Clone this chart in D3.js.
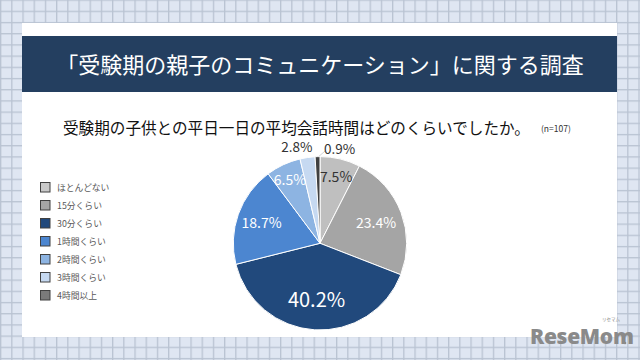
<!DOCTYPE html>
<html><head><meta charset="utf-8">
<script src="https://cdn.jsdelivr.net/npm/d3@7"></script>
<style>html,body{margin:0;padding:0;background:#fff;}svg{display:block;}</style>
</head><body>
<svg id="c" width="640" height="360"></svg>
<script>
const title = "「受験期の親子のコミュニケーション」に関する調査";
const question = "受験期の子供との平日一日の平均会話時間はどのくらいでしたか。";
const sampleNote = "(n=107)";
const categories = ["ほとんどない","15分くらい","30分くらい","1時間くらい","2時間くらい","3時間くらい","4時間以上"];
const values = [7.5, 23.4, 40.2, 18.7, 6.5, 2.8, 0.9];
const sliceColors = ["#bfbfbf","#a5a5a5","#21497c","#4c86d0","#8db4e2","#c6d9f1","#404040"];
const legendColors = ["#c9c9c9","#a6a6a6","#21497c","#4c86d0","#8db4e2","#c6d9f1","#7a7a7a"];

const svg = d3.select("#c");
const W = 640, H = 360;
const FONT = "'Noto Sans CJK JP','Noto Sans',sans-serif";

// grid background
const defs = svg.append("defs");
const step = 11.2;
const pat = defs.append("pattern").attr("id","grid").attr("patternUnits","userSpaceOnUse")
  .attr("width",step).attr("height",step).attr("x",0).attr("y",10.7 - step);
pat.append("rect").attr("width",step).attr("height",step).attr("fill","#dfe6f2");
pat.append("rect").attr("x",0).attr("y",0).attr("width",1.3).attr("height",step).attr("fill","#b9c3d2");
pat.append("rect").attr("x",0).attr("y",0).attr("width",step).attr("height",1.3).attr("fill","#b9c3d2");
svg.append("rect").attr("width",W).attr("height",H).attr("fill","url(#grid)");

// card
svg.append("rect").attr("x",22).attr("y",23).attr("width",595).attr("height",314).attr("fill","#ffffff");
svg.append("rect").attr("x",22).attr("y",36).attr("width",595).attr("height",56).attr("fill","#243f60");
svg.append("text").attr("x",320).attr("y",73).attr("text-anchor","middle")
  .attr("font-family",FONT).attr("font-size",22).attr("fill","#ffffff").text(title);

// question
svg.append("text").attr("x",63).attr("y",134)
  .attr("font-family",FONT).attr("font-size",15.6).attr("fill","#111111").text(question);
svg.append("text").attr("x",541).attr("y",132)
  .attr("font-family",FONT).attr("font-size",8.5).attr("fill","#333").text(sampleNote);

// pie
const cx = 320, cy = 243.3, R = 86.7;
const g = svg.append("g").attr("transform",`translate(${cx},${cy})`);
const pie = d3.pie().sort(null).value(d=>d)(values);
const arc = d3.arc().innerRadius(0).outerRadius(R);
g.selectAll("path.s").data(pie).join("path").attr("class","s")
  .attr("d",arc).attr("fill",(d,i)=>sliceColors[i]).attr("stroke","#ffffff").attr("stroke-width",1);

// labels
const pct = v => v.toFixed(1) + "%";
const labelR = [69, 60, 55, 62, 71, 98, 98];
const textCol = ["#333333","#ffffff","#ffffff","#ffffff","#ffffff","#333333","#333333"];
const sizes = [14,14,20,14,14,13.5,13.5];
pie.forEach((d,i)=>{
  const a = (d.startAngle + d.endAngle)/2;
  let x = Math.sin(a)*labelR[i], y = -Math.cos(a)*labelR[i];
  if (i === 5) { x -= 9; }
  if (i === 6) { x = Math.sin(a)*R; y = -Math.cos(a)*R;
    g.append("line").attr("x1",x+1).attr("y1",y).attr("x2",x+8).attr("y2",y-6)
      .attr("stroke","#c8c8c8").attr("stroke-width",0.8);
    x = x + 22; y = y - 9; }
  g.append("text").attr("x",x).attr("y",y).attr("text-anchor","middle").attr("dominant-baseline","central")
    .attr("font-family",FONT).attr("font-size",sizes[i]).attr("fill",textCol[i]).text(pct(values[i]));
});

// legend
const lg = svg.append("g");
categories.forEach((c,i)=>{
  const y = 187 + i*18;
  lg.append("rect").attr("x",40.5).attr("y",y-4.5).attr("width",9.5).attr("height",9.5)
    .attr("fill",legendColors[i]).attr("stroke","#404040").attr("stroke-width",1);
  lg.append("text").attr("x",57).attr("y",y).attr("dominant-baseline","central")
    .attr("font-family",FONT).attr("font-size",8.8).attr("fill","#595959").text(c);
});

// logo
svg.append("text").attr("x",530).attr("y",344).attr("font-family","'Open Sans',sans-serif")
  .attr("font-weight",800).attr("font-size",21).attr("fill","#8a8a8a").attr("letter-spacing",-0.3).text("ReseMom");
svg.append("text").attr("x",611).attr("y",321).attr("text-anchor","middle").attr("font-family",FONT)
  .attr("font-size",4.5).attr("fill","#8a8a8a").text("リセマム");
svg.append("circle").attr("cx",625).attr("cy",343).attr("r",1.3).attr("fill","#8a8a8a");
</script>
</body></html>
